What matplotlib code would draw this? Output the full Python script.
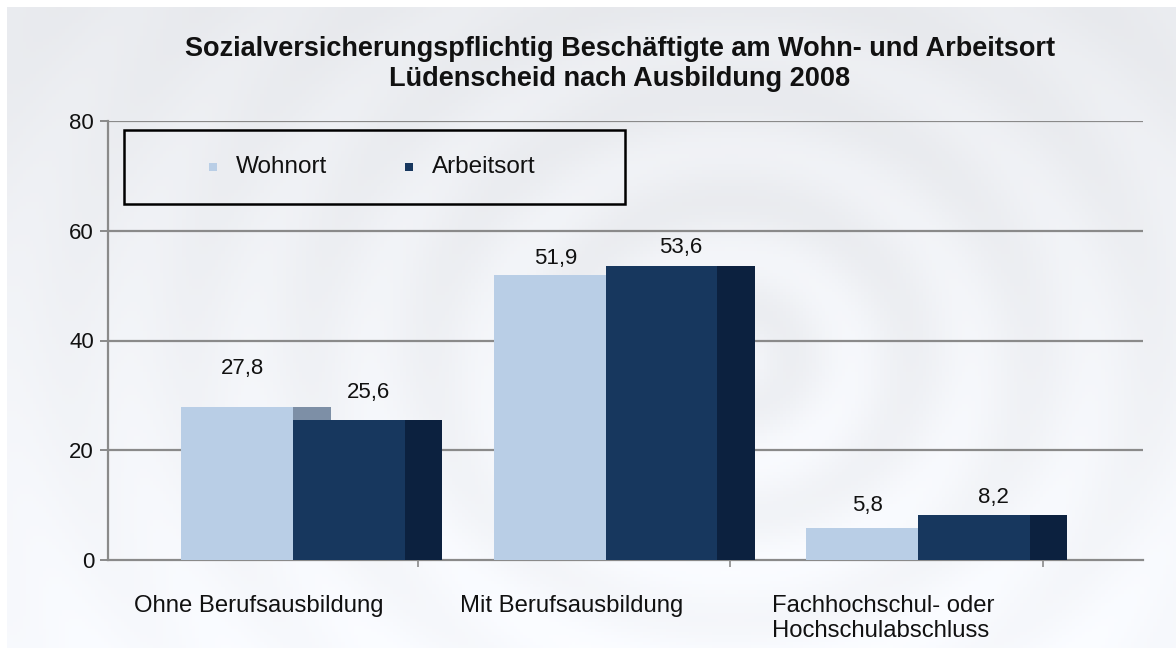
import numpy as np
import matplotlib
matplotlib.use("Agg")
import matplotlib.pyplot as plt
from matplotlib.patches import Rectangle

plt.rcParams['font.family'] = ['Liberation Sans', 'DejaVu Sans']

# ---- data ----
categories = ["Ohne Berufsausbildung", "Mit Berufsausbildung",
              "Fachhochschul- oder\nHochschulabschluss"]
series_names = ["Wohnort", "Arbeitsort"]
wohnort = [27.8, 51.9, 5.8]
arbeitsort = [25.6, 53.6, 8.2]
y_ticks = [0, 20, 40, 60, 80]
title = ("Sozialversicherungspflichtig Beschäftigte am Wohn- und Arbeitsort\n"
         "Lüdenscheid nach Ausbildung 2008")

# ---- style ----
front_colors = ["#b9cee6", "#17375e"]
side_colors = ["#7d8fa6", "#0c213f"]
bar_w = 0.358
depth = 0.12
label_offset_px = [[39, 27], [17, 18], [23, 18]]
label_dx = [-0.16, 0.24]

W, H, DPI = 1176, 648, 100
fig = plt.figure(figsize=(W / DPI, H / DPI), dpi=DPI)
fig.patch.set_facecolor("white")

# background (light rippled photo look)
bg = fig.add_axes([7 / W, 0, 1 - 7 / W, 1 - 7 / H], zorder=0)
yy, xx = np.mgrid[0:1:200j, 0:1:360j]
r = np.hypot((xx - 0.62) * 1.6, (yy - 0.55))
base = 0.925 + 0.06 * yy
ripple = 0.022 * np.cos(r * 38) * np.exp(-r * 1.5)
g = np.clip(base + ripple, 0, 1)
img = np.dstack([g - 0.01, g - 0.003, g + 0.012])
img = np.clip(img, 0, 1)
bg.imshow(img, aspect="auto", extent=[0, 1, 0, 1], origin="upper")
bg.axis("off")

ax = fig.add_axes([108 / W, 88 / H, (1143 - 108) / W, (560 - 121) / H], zorder=1)
ax.patch.set_alpha(0)

x = np.arange(len(categories))
ax.set_xlim(-0.592, 2.72)
ax.set_ylim(0, 80)

for yv in y_ticks[1:]:
    ax.axhline(yv, color="#8a8a8a", lw=1.6, zorder=1)

for i, c in enumerate(x):
    for s, vals in enumerate([wohnort, arbeitsort]):
        v = vals[i]
        left = c - bar_w if s == 0 else c
        ax.add_patch(Rectangle((left + bar_w, 0), depth, v,
                               facecolor=side_colors[s], edgecolor="none", zorder=2 + 2 * s))
        ax.add_patch(Rectangle((left, 0), bar_w, v,
                               facecolor=front_colors[s], edgecolor="none", zorder=3 + 2 * s))
        ax.annotate(f"{v:.1f}".replace(".", ","),
                    xy=(c + label_dx[s], v), xytext=(0, label_offset_px[i][s] * 72 / DPI),
                    textcoords="offset points", ha="center", va="center",
                    fontsize=16, color="#111111", zorder=10)

ax.set_yticks(y_ticks)
ax.set_yticklabels([str(t) for t in y_ticks], fontsize=16, color="#111111")
ax.tick_params(axis="y", length=6, width=1.4, color="#8a8a8a", pad=4)
ax.set_xticks(x + 0.4)
ax.set_xticklabels([])
ax.tick_params(axis="x", length=5, width=1.2, color="#8a8a8a", direction="out")

for sp in ["top", "right"]:
    ax.spines[sp].set_visible(False)
ax.spines["left"].set_color("#8a8a8a")
ax.spines["left"].set_linewidth(1.6)
ax.spines["bottom"].set_color("#8a8a8a")
ax.spines["bottom"].set_linewidth(1.6)

for i, c in enumerate(x):
    ax.annotate(categories[i], xy=(c - 0.11, 0), xytext=(0, -25),
                textcoords="offset points", ha="center", va="top",
                fontsize=17.2, color="#111111", linespacing=1.2,
                multialignment="left")

fig.text(0.527, 1 - 64 / H, title, ha="center", va="center",
         fontsize=19.5, fontweight="bold", color="#111111", linespacing=1.15)

# legend box drawn in figure pixel coordinates
def fx(px):
    return px / W

def fy(py):
    return 1 - py / H

fig.patches.append(Rectangle((fx(124), fy(204)), fx(625) - fx(124), fy(130) - fy(204),
                             transform=fig.transFigure, facecolor="none",
                             edgecolor="black", linewidth=1.8, zorder=20))
legend_marker_px = [213, 409]
legend_text_px = [236, 432]
for k in range(2):
    fig.patches.append(Rectangle((fx(legend_marker_px[k] - 4), fy(171)), 8 / W, 8 / H,
                                 transform=fig.transFigure, facecolor=front_colors[k],
                                 edgecolor="none", zorder=20))
    fig.text(fx(legend_text_px[k]), fy(167), series_names[k], ha="left", va="center",
             fontsize=17.5, color="#111111", zorder=20)

fig.savefig("out.png", dpi=DPI)
